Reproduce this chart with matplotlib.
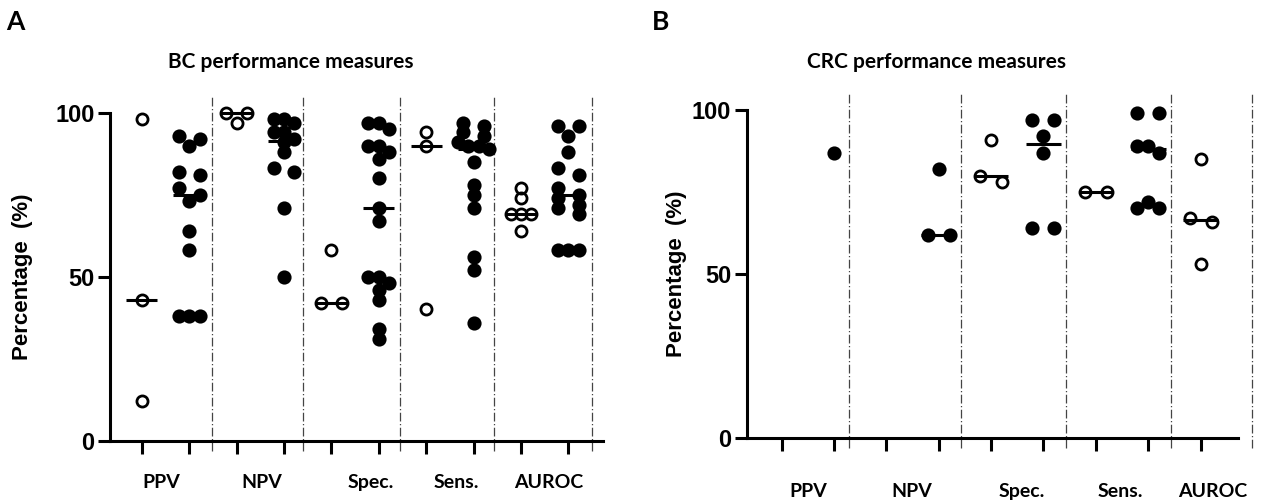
import numpy as np
import matplotlib
matplotlib.use('Agg')
import matplotlib.pyplot as plt

# ---- data (percent) ----
categories = ['PPV', 'NPV', 'Spec.', 'Sens.', 'AUROC']

# BC panel: open = first group, filled = second group of each measure
bc_open_ppv = [98, 43, 12]
bc_fill_ppv = [93, 92, 90, 82, 81, 77, 75, 73, 64, 58, 38, 38, 38]
bc_open_npv = [100, 100, 97]
bc_fill_npv = [98, 98, 97, 94, 94, 92, 91, 88, 83, 82, 71, 50]
bc_open_spec = [58, 42, 42]
bc_fill_spec = [97, 97, 95, 90, 90, 88, 86, 80, 71, 67, 50, 50, 48, 46, 43, 34, 31]
bc_open_sens = [94, 90, 40]
bc_fill_sens = [97, 96, 94, 93, 91, 90, 90, 89, 85, 78, 75, 71, 56, 52, 36]
bc_open_auroc = [77, 74, 69, 69, 69, 64]
bc_fill_auroc = [96, 96, 93, 88, 83, 81, 77, 75, 74, 72, 71, 69, 58, 58, 58]

# CRC panel
crc_open_ppv = []
crc_fill_ppv = [87]
crc_open_npv = []
crc_fill_npv = [82, 62, 62]
crc_open_spec = [91, 80, 78]
crc_fill_spec = [97, 97, 92, 87, 64, 64]
crc_open_sens = [75, 75]
crc_fill_sens = [99, 99, 89, 89, 87, 72, 70, 70]
crc_open_auroc = [85, 67, 66, 53]

bc_cols = [(bc_open_ppv, False), (bc_fill_ppv, True),
           (bc_open_npv, False), (bc_fill_npv, True),
           (bc_open_spec, False), (bc_fill_spec, True),
           (bc_open_sens, False), (bc_fill_sens, True),
           (bc_open_auroc, False), (bc_fill_auroc, True)]
crc_cols = [(crc_open_ppv, False), (crc_fill_ppv, True),
            (crc_open_npv, False), (crc_fill_npv, True),
            (crc_open_spec, False), (crc_fill_spec, True),
            (crc_open_sens, False), (crc_fill_sens, True),
            (crc_open_auroc, False)]

NUM_FONT = 'Liberation Sans'
TXT_FONT = 'Lato'


def swarm_offsets(vals, g, thr=2.5):
    # group near-equal values in rows and spread each row sideways
    vals = np.asarray(vals, dtype=float)
    order = np.argsort(-vals, kind='stable')
    rows = []
    for i in order:
        if rows and vals[rows[-1][0]] - vals[i] <= thr:
            rows[-1].append(i)
        else:
            rows.append([i])
    offs = np.zeros(len(vals))
    for row in rows:
        n = len(row)
        if n == 1:
            pat = [0.0]
        elif n == 2:
            pat = [-g, g]
        elif n == 3:
            pat = [0.0, -g, g]
        else:
            pat = [(k - (n - 1) / 2) * g for k in range(n)]
        for i, o in zip(row, pat):
            offs[i] = o
    return offs


def draw_panel(ax, cols, xlim, seps, label_x, label_y, g):
    for pos, (vals, filled) in enumerate(cols):
        if len(vals) == 0:
            continue
        x = pos + swarm_offsets(vals, g)
        if filled:
            ax.plot(x, vals, 'o', ms=9.0, mfc='black', mec='black', mew=1.2,
                    ls='none', clip_on=False, zorder=3)
        else:
            ax.plot(x, vals, 'o', ms=8.0, mfc='none', mec='black', mew=2.0,
                    ls='none', clip_on=False, zorder=3)
        if len(vals) > 1:
            m = np.median(vals)
            ax.plot([pos - 0.33, pos + 0.33], [m, m], color='black',
                    lw=2.2, solid_capstyle='butt', zorder=4, clip_on=False)

    for s in seps:
        ax.plot([s, s], [-3, 105], color='#444444', lw=0.9,
                ls=(0, (7, 2, 1, 2)), clip_on=False, zorder=1)

    ax.set_xlim(*xlim)
    ax.set_ylim(0, 100)
    ax.set_yticks([0, 50, 100])
    ax.set_xticks(range(len(cols)))
    ax.set_xticklabels([])
    for side in ['top', 'right']:
        ax.spines[side].set_visible(False)
    for side in ['left', 'bottom']:
        ax.spines[side].set_linewidth(2.2)
    ax.tick_params(axis='both', width=2.2, length=9, direction='out')
    ax.tick_params(axis='y', pad=2)
    for t in ax.get_yticklabels():
        t.set_fontfamily(NUM_FONT)
        t.set_fontweight('bold')
        t.set_fontsize(17)

    for cx, name in zip(label_x, categories):
        ax.text(cx, label_y, name, transform=ax.get_xaxis_transform(),
                ha='center', va='center', fontsize=14, fontweight='bold',
                family=TXT_FONT)

    ax.set_ylabel('Percentage  (%)', fontsize=16, fontweight='bold',
                  family=NUM_FONT)


fig = plt.figure(figsize=(12.61, 5.03), dpi=100)

axA = fig.add_axes([0.0872, 0.1239, 0.391, 0.652])
draw_panel(axA, bc_cols, (-0.67, 9.73), [1.49, 3.41, 5.45, 7.44, 9.50],
           [0.42, 2.53, 4.84, 6.63, 8.59], -0.126, 0.22)
axA.yaxis.set_label_coords(-0.156, 0.5)

axB = fig.add_axes([0.5921, 0.1286, 0.3897, 0.6527])
draw_panel(axB, crc_cols, (-0.668, 8.715), [1.29, 3.42, 5.43, 7.43, 8.98],
           [0.50, 2.49, 4.59, 6.46, 8.24], -0.163, 0.21)
axB.yaxis.set_label_coords(-0.122, 0.5)

fig.text(0.2308, 0.8767, 'BC performance measures', ha='center', va='center',
         fontsize=15, fontweight='bold', family=TXT_FONT)
fig.text(0.7428, 0.8767, 'CRC performance measures', ha='center', va='center',
         fontsize=15, fontweight='bold', family=TXT_FONT)
fig.text(0.0123, 0.956, 'A', ha='center', va='center', fontsize=19,
         fontweight='bold', family=TXT_FONT)
fig.text(0.524, 0.956, 'B', ha='center', va='center', fontsize=19,
         fontweight='bold', family=TXT_FONT)

fig.savefig('out.png', dpi=100)
